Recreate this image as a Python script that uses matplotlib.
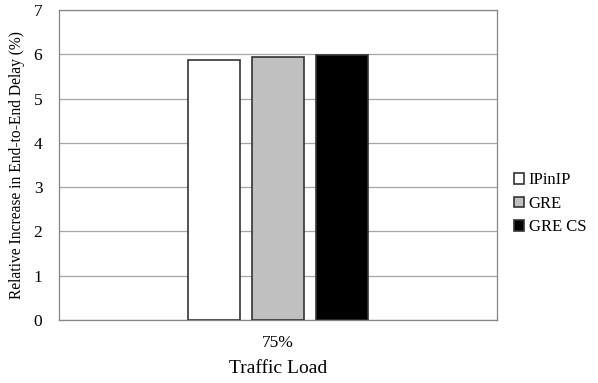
import matplotlib
matplotlib.use("Agg")
import matplotlib.pyplot as plt
import numpy as np

# data
categories = ["75%"]
series = ["IPinIP", "GRE", "GRE CS"]
values = [5.87, 5.94, 5.99]
colors = ["white", "#c0c0c0", "black"]

plt.rcParams['font.family'] = ['Liberation Serif', 'DejaVu Serif']

fig = plt.figure(figsize=(5.98, 3.83), dpi=100)
ax = fig.add_axes([59/598, 63/383, 438/598, 310/383])

x = np.arange(len(categories))
width = 0.119
step = 0.146
for i, (name, val, col) in enumerate(zip(series, values, colors)):
    ax.bar(x + (i - 1) * step, [val], width, color=col, edgecolor="#333333",
           linewidth=1.2, label=name, zorder=3)

ax.set_xlim(-0.5, 0.5)
ax.set_ylim(0, 7)
ax.set_yticks(range(0, 8))
ax.set_xticks(x)
ax.set_xticklabels(categories)
ax.tick_params(length=0, labelsize=12.5, pad=12)
ax.tick_params(axis='x', pad=11)
ax.grid(axis='y', color='#a6a6a6', linewidth=0.9, zorder=0)
for s in ax.spines.values():
    s.set_color('#868686')
    s.set_linewidth(0.9)

ax.set_xlabel("Traffic Load", fontsize=14, labelpad=6.5)
ax.set_ylabel("Relative Increase in End-to-End Delay (%)", fontsize=11.2, labelpad=6)

leg = ax.legend(loc='center left', bbox_to_anchor=(1.0, 0.375), frameon=False,
                fontsize=12, handlelength=0.6, handleheight=0.6,
                handletextpad=0.3, labelspacing=0.45, borderaxespad=0.6)

fig.savefig("out.png", dpi=100)
